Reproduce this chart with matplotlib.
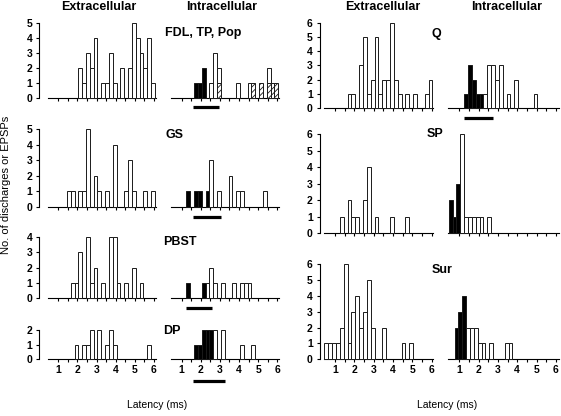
import numpy as np
import matplotlib.pyplot as plt
from matplotlib.transforms import offset_copy

plt.rcParams['font.family'] = ['Liberation Sans', 'DejaVu Sans']
plt.rcParams['hatch.linewidth'] = 0.6

W, H = 561, 416
BIN = 0.2   # ms

# ============ data: counts per 0.2 ms bin, from the given left edge ============
fdl_ext_start = 2.05
fdl_ext = [2, 1, 3, 2, 4, 0, 1, 1, 3, 1, 0, 2, 0, 2, 5, 4, 3, 2, 4, 1]
fdl_int_start = 1.65
fdl_int_black = [1, 1, 2, 0, 0, 0, 0, 0, 0, 0, 0, 0, 0, 0, 0, 0, 0, 0, 0, 0, 0, 0]
fdl_int_white = [0, 0, 0, 0, 1, 3, 1, 0, 0, 0, 0, 1, 0, 0, 1, 0, 0, 0, 0, 1, 0, 0]
fdl_int_hatch = [0, 0, 0, 0, 0, 0, 1, 0, 0, 0, 0, 0, 0, 0, 0, 1, 0, 1, 0, 1, 1, 1]
fdl_range = (1.58, 2.97)

gs_ext_start = 1.45
gs_ext = [1, 1, 0, 1, 1, 5, 0, 2, 1, 0, 1, 0, 4, 0, 0, 1, 3, 1, 0, 0, 1, 0, 1]
gs_int_start = 1.25
gs_int_black = [1, 0, 1, 1, 0, 1, 0, 0, 0, 0, 0, 0, 0, 0, 0, 0, 0, 0, 0, 0, 0]
gs_int_white = [0, 0, 0, 0, 0, 0, 3, 0, 1, 0, 0, 2, 0, 1, 1, 0, 0, 0, 0, 0, 1]
gs_range = (1.58, 3.04)

pbst_ext_start = 1.65
pbst_ext = [1, 1, 3, 0, 4, 1, 2, 0, 1, 0, 4, 4, 1, 0, 1, 0, 2, 0, 1]
pbst_int_start = 1.25
pbst_int_black = [1, 0, 0, 0, 1, 0, 0, 0, 0, 0, 0, 0, 0, 0, 0, 0, 0]
pbst_int_white = [0, 0, 0, 0, 0, 1, 2, 1, 0, 1, 0, 0, 1, 0, 1, 1, 1]
pbst_range = (1.23, 2.57)

dp_ext_start = 1.85
dp_ext = [1, 0, 1, 1, 2, 0, 2, 0, 1, 2, 1, 0, 0, 0, 0, 0, 0, 0, 0, 1]
dp_int_start = 1.65
dp_int_black = [1, 1, 2, 2, 2, 0, 0, 0, 0, 0, 0, 0, 0, 0, 0, 0]
dp_int_white = [0, 0, 0, 0, 0, 2, 0, 2, 0, 0, 0, 0, 1, 0, 0, 1]
dp_range = (1.61, 3.27)

q_ext_start = 1.65
q_ext = [1, 1, 0, 3, 5, 1, 2, 5, 1, 2, 2, 6, 2, 1, 0, 1, 0, 1, 0, 0, 1, 2]
q_int_start = 1.25
q_int_black = [1, 3, 2, 1, 1, 0, 0, 0, 0, 0, 0, 0, 0, 0, 0, 0, 0, 0, 0]
q_int_white = [0, 0, 0, 0, 0, 1, 3, 3, 2, 3, 0, 1, 0, 2, 0, 0, 0, 0, 1]
q_range = (1.26, 2.72)

sp_ext_start = 1.25
sp_ext = [1, 0, 2, 1, 1, 0, 2, 4, 0, 1, 0, 0, 0, 1, 0, 0, 0, 1]
sp_int_start = 0.45
sp_int_black = [2, 1, 3, 0, 0, 0, 0, 0, 0, 0, 0]
sp_int_white = [0, 0, 0, 6, 1, 1, 1, 1, 1, 0, 1]

sur_ext_start = 0.45
sur_ext = [1, 1, 1, 1, 2, 6, 1, 3, 4, 2, 3, 5, 2, 0, 0, 2, 0, 0, 0, 0, 1, 0, 1]
sur_int_start = 0.75
sur_int_black = [2, 3, 4, 0, 0, 0, 0, 0, 0, 0, 0, 0, 0, 0, 0]
sur_int_white = [0, 0, 0, 2, 2, 2, 1, 1, 0, 1, 0, 0, 0, 1, 1]

fig = plt.figure(figsize=(W / 100, H / 100), dpi=100)


def make_ax(left_px, right_px, base_px, unit_px, ymax, xlim, yaxis=True,
            xlabels=False, xbounds=(0.45, 6.1)):
    ax = fig.add_axes([left_px / W, 1 - base_px / H,
                       (right_px - left_px) / W, ymax * unit_px / H])
    ax.set_xlim(xlim)
    ax.set_ylim(0, ymax)
    ax.patch.set_visible(False)
    for s in ['top', 'right']:
        ax.spines[s].set_visible(False)
    ax.spines['bottom'].set_bounds(*xbounds)
    ax.spines['bottom'].set_linewidth(0.8)
    ax.set_xticks(np.arange(1, 6.01, 1))
    ax.set_xticks(np.arange(1.5, 6.0, 1), minor=True)
    ax.tick_params(axis='x', which='both', direction='out', length=2.5,
                   width=0.8, pad=1.5, labelsize=7.5)
    if xlabels:
        ax.set_xticklabels([str(i) for i in range(1, 7)], fontweight='bold')
    else:
        ax.set_xticklabels([])
    if yaxis:
        ax.spines['left'].set_linewidth(0.8)
        ax.set_yticks(range(0, ymax + 1))
        ax.set_yticklabels([str(i) for i in range(0, ymax + 1)],
                           fontweight='bold')
        ax.tick_params(axis='y', direction='out', length=2.5, width=0.8,
                       pad=2.5, labelsize=7.5)
    else:
        ax.spines['left'].set_visible(False)
        ax.set_yticks([])
    return ax


def draw_bars(ax, start, counts, bottom=None, color='white', hatch=None):
    counts = np.asarray(counts, dtype=float)
    lefts = start + BIN * np.arange(len(counts))
    if bottom is None:
        bottom = np.zeros_like(counts)
    m = counts > 0
    ax.bar(lefts[m], counts[m], width=BIN, bottom=np.asarray(bottom)[m],
           align='edge', color=color, edgecolor='#1a1a1a', linewidth=0.7,
           hatch=hatch, clip_on=False, zorder=3)


def draw_range(ax, rng, drop_px):
    tr = offset_copy(ax.transData, fig=fig, y=-drop_px, units='dots')
    ax.plot(rng, [0, 0], color='black', lw=2.3, solid_capstyle='butt',
            transform=tr, clip_on=False)


# ---------- left column ----------
LE = (39.2, 156.7, (0, 6.15))
LI = (162.6, 280.1, (0, 6.15))
rows_left = [
    (97.7, 14.88, 5, fdl_ext_start, fdl_ext, fdl_int_start, fdl_int_black,
     fdl_int_white, fdl_int_hatch, fdl_range, 9.6, 'FDL, TP, Pop', (165, 33.3)),
    (206.7, 15.5, 5, gs_ext_start, gs_ext, gs_int_start, gs_int_black,
     gs_int_white, None, gs_range, 10, 'GS', (165.5, 135)),
    (297.7, 15.1, 4, pbst_ext_start, pbst_ext, pbst_int_start, pbst_int_black,
     pbst_int_white, None, pbst_range, 10.6, 'PBST', (163, 241.7)),
    (359.3, 14.65, 2, dp_ext_start, dp_ext, dp_int_start, dp_int_black,
     dp_int_white, None, dp_range, 21.7, 'DP', (163, 330.5)),
]
for i, (base, unit, ymax, es, ec, ist, ib, iw, ih, rng, drop, name, pos) in enumerate(rows_left):
    last = i == len(rows_left) - 1
    ax = make_ax(LE[0], LE[1], base, unit, ymax, LE[2], xlabels=last)
    draw_bars(ax, es, ec)
    ax2 = make_ax(LI[0], LI[1], base, unit, ymax, LI[2], yaxis=False, xlabels=last)
    hb = np.zeros(len(iw)) if ih is None else np.asarray(ih, dtype=float)
    if ih is not None:
        draw_bars(ax2, ist, ih, hatch='//////')
    draw_bars(ax2, ist, ib, color='black')
    draw_bars(ax2, ist, iw, bottom=hb)
    draw_range(ax2, rng, drop)
    fig.text(pos[0] / W, 1 - pos[1] / H, name, fontsize=9, fontweight='bold',
             ha='left', va='center')

# ---------- right column ----------
RE = (319.6, 434.4, (0.2, 6.15))
RI = (446.8, 558.7, (0.35, 6.15))
rows_right = [
    (108.0, 14.2, 6, q_ext_start, q_ext, q_int_start, q_int_black,
     q_int_white, q_range, 10, 'Q', (431.7, 33.5)),
    (233.3, 16.55, 6, sp_ext_start, sp_ext, sp_int_start, sp_int_black,
     sp_int_white, None, 0, 'SP', (426.7, 134)),
    (359.3, 15.9, 6, sur_ext_start, sur_ext, sur_int_start, sur_int_black,
     sur_int_white, None, 0, 'Sur', (431.7, 270.3)),
]
for i, (base, unit, ymax, es, ec, ist, ib, iw, rng, drop, name, pos) in enumerate(rows_right):
    last = i == len(rows_right) - 1
    ax = make_ax(RE[0], RE[1], base, unit, ymax, RE[2], xlabels=last)
    draw_bars(ax, es, ec)
    ax2 = make_ax(RI[0], RI[1], base, unit, ymax, RI[2], yaxis=False,
                  xlabels=last, xbounds=(0.4, 6.15))
    draw_bars(ax2, ist, ib, color='black')
    draw_bars(ax2, ist, iw)
    if rng is not None:
        draw_range(ax2, rng, drop)
    fig.text(pos[0] / W, 1 - pos[1] / H, name, fontsize=9, fontweight='bold',
             ha='left', va='center')

# ---------- titles / labels ----------
for x, t in [(98.5, 'Extracellular'), (222, 'Intracellular'),
             (383, 'Extracellular'), (507, 'Intracellular')]:
    fig.text(x / W, 1 - 7.5 / H, t, fontsize=9, fontweight='bold',
             ha='center', va='center')
for x in [156.7, 447.5]:
    fig.text(x / W, 1 - 404.5 / H, 'Latency (ms)', fontsize=7.5,
             ha='center', va='center')
fig.text(6 / W, 1 - 185 / H, 'No. of discharges or EPSPs', fontsize=8,
         rotation=90, ha='center', va='center')

fig.savefig('out.png', dpi=100)
